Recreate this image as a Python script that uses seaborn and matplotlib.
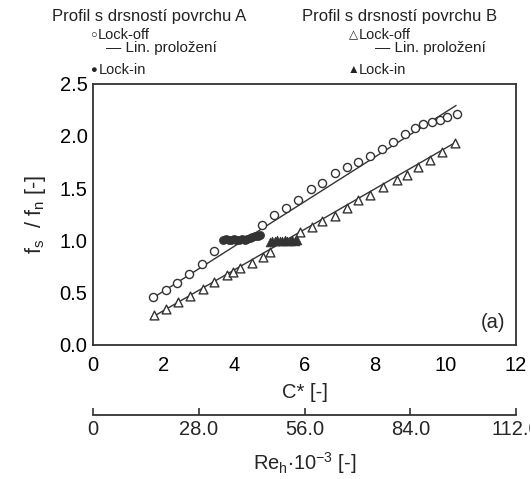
import matplotlib
matplotlib.use("Agg")
import matplotlib.pyplot as plt
import seaborn as sns
import numpy as np

# ---- data ----
A_off_x = [1.71, 2.07, 2.39, 2.73, 3.10, 3.43, 4.79, 5.13, 5.48, 5.82, 6.18, 6.49, 6.87,
           7.20, 7.53, 7.86, 8.19, 8.52, 8.85, 9.13, 9.37, 9.61, 9.84, 10.03, 10.32]
A_off_y = [0.456, 0.529, 0.593, 0.679, 0.774, 0.90, 1.15, 1.24, 1.31, 1.39, 1.49, 1.55, 1.64,
           1.70, 1.75, 1.81, 1.87, 1.94, 2.02, 2.07, 2.11, 2.13, 2.15, 2.18, 2.21]
A_in_x = [3.70, 3.77, 3.85, 3.92, 4.00, 4.07, 4.15, 4.22, 4.30, 4.37, 4.45, 4.52, 4.60, 4.67, 4.74]
A_in_y = [1.00, 1.01, 1.00, 1.00, 1.01, 1.00, 1.00, 1.01, 1.00, 1.01, 1.02, 1.03, 1.04, 1.04, 1.05]
A_fit_x = [1.70, 10.30]
A_fit_y = [0.45, 2.29]

B_off_x = [1.73, 2.07, 2.42, 2.75, 3.11, 3.43, 3.79, 3.98, 4.17, 4.50, 4.81, 5.02, 5.87,
           6.20, 6.49, 6.87, 7.20, 7.53, 7.86, 8.24, 8.62, 8.90, 9.23, 9.56, 9.89, 10.27]
B_off_y = [0.287, 0.341, 0.414, 0.468, 0.532, 0.605, 0.669, 0.70, 0.733, 0.78, 0.844, 0.892, 1.083,
           1.125, 1.19, 1.233, 1.307, 1.386, 1.434, 1.513, 1.577, 1.625, 1.699, 1.769, 1.848, 1.928]
B_in_x = [5.02, 5.09, 5.16, 5.23, 5.30, 5.37, 5.44, 5.51, 5.58, 5.65, 5.72, 5.78]
B_in_y = [0.98, 0.99, 0.99, 1.00, 0.99, 0.99, 1.00, 0.99, 0.99, 1.00, 0.99, 1.00]
B_fit_x = [1.70, 10.30]
B_fit_y = [0.27, 1.94]

x_ticks = [0, 2, 4, 6, 8, 10, 12]
y_ticks = [0.0, 0.5, 1.0, 1.5, 2.0, 2.5]
re_ticks = [0, 28.0, 56.0, 84.0, 112.0]
re_labels = ["0", "28.0", "56.0", "84.0", "112.0"]

# ---- style ----
sns.set_theme(style="white")
plt.rcParams["font.family"] = ["Liberation Sans", "DejaVu Sans"]
plt.rcParams["mathtext.default"] = "regular"
plt.rcParams["mathtext.fontset"] = "custom"
plt.rcParams["mathtext.rm"] = "Liberation Sans"

DARK = "#333333"
fig = plt.figure(figsize=(5.30, 4.79), dpi=100)
ax = fig.add_axes([93 / 530, 1 - 345 / 479, (516 - 93) / 530, (345 - 83.5) / 479])

# fit lines
sns.lineplot(x=A_fit_x, y=A_fit_y, ax=ax, color=DARK, lw=1.0, zorder=2)
sns.lineplot(x=B_fit_x, y=B_fit_y, ax=ax, color=DARK, lw=1.0, zorder=2)
# lock-off (open)
sns.scatterplot(x=A_off_x, y=A_off_y, ax=ax, marker="o", s=34, facecolor="white",
                edgecolor=DARK, linewidth=1.0, zorder=3)
sns.scatterplot(x=B_off_x, y=B_off_y, ax=ax, marker="^", s=40, facecolor="white",
                edgecolor=DARK, linewidth=1.0, zorder=3)
# lock-in (filled)
sns.scatterplot(x=A_in_x, y=A_in_y, ax=ax, marker="o", s=34, color=DARK,
                edgecolor=DARK, linewidth=0.5, zorder=4)
sns.scatterplot(x=B_in_x, y=B_in_y, ax=ax, marker="^", s=40, color=DARK,
                edgecolor=DARK, linewidth=0.5, zorder=4)

ax.set_xlim(0, 12)
ax.set_ylim(0, 2.5)
ax.set_xticks(x_ticks)
ax.set_yticks(y_ticks)
ax.set_yticklabels([f"{v:.1f}" for v in y_ticks])
for sp in ax.spines.values():
    sp.set_color(DARK)
    sp.set_linewidth(1.3)
ax.tick_params(axis="both", direction="in", length=5, width=1.2, color=DARK,
               labelsize=14.5, labelcolor="black")
ax.tick_params(axis="x", pad=8)
ax.tick_params(axis="y", pad=4)
ax.set_xlabel("C* [-]", fontsize=14.5, labelpad=6)
ax.set_ylabel("f$_s$  / f$_n$ [-]", fontsize=15.5, labelpad=8)
ax.text(0.975, 0.05, "(a)", transform=ax.transAxes, ha="right", va="bottom", fontsize=14.5)

# secondary (Reynolds) axis
sec = ax.secondary_xaxis(-0.266, functions=(lambda x: x * 112.0 / 12.0, lambda r: r * 12.0 / 112.0))
sec.set_xticks(re_ticks)
sec.set_xticklabels(re_labels)
sec.spines["bottom"].set_color(DARK)
sec.spines["bottom"].set_linewidth(1.3)
sec.tick_params(axis="x", direction="in", length=5, width=1.2, color=DARK, labelsize=14.5, pad=4)
sec.set_xlabel("Re$_h$$\\cdot$10$^{-3}$ [-]", fontsize=14.5, labelpad=8)

# legend-like header texts
def ft(x, y, s, size, ha="left"):
    fig.text(x / 530, 1 - y / 479, s, fontsize=size, ha=ha, va="center", color="#222222")

ft(149, 17, "Profil s drsností povrchu A", 12, ha="center")
ft(400, 17, "Profil s drsností povrchu B", 12, ha="center")
ft(90, 35, "○", 8)
ft(98, 35, "Lock-off", 10.5)
ft(106, 48, "— Lin. proložení", 11)
ft(90, 70, "●", 8)
ft(99, 70, "Lock-in", 10.5)
ft(349, 35, "△", 8.5)
ft(359, 35, "Lock-off", 10.5)
ft(375, 48, "— Lin. proložení", 11)
ft(348, 70, "▲", 8.5)
ft(359, 70, "Lock-in", 10.5)

fig.savefig("out.png", dpi=100)
